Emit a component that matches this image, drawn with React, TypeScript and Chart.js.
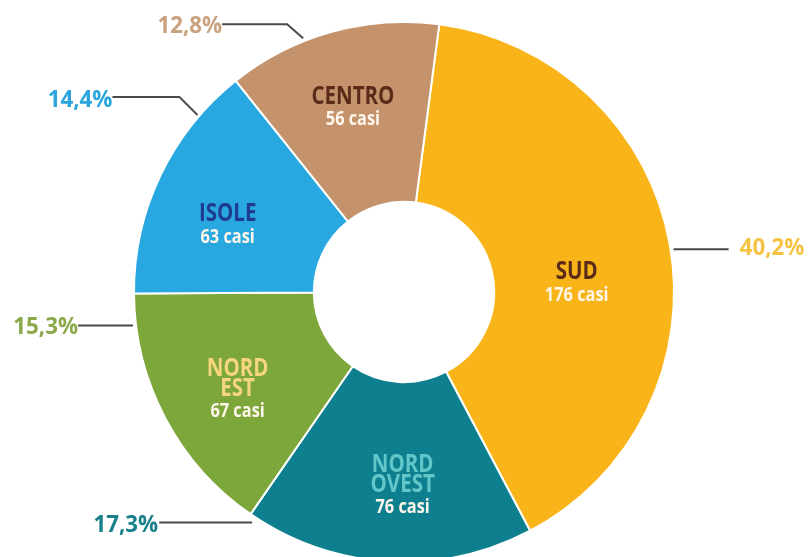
import React, { useEffect, useRef } from "react";
import { Chart, registerables } from "chart.js";

Chart.register(...registerables);

// ---------- data ----------
const REGIONS = ["SUD", "NORD OVEST", "NORD EST", "ISOLE", "CENTRO"];
const TITLE_LINES = [["SUD"], ["NORD", "OVEST"], ["NORD", "EST"], ["ISOLE"], ["CENTRO"]];
const CASES = [176, 76, 67, 63, 56];
const PERCENT_LABELS = ["40,2%", "17,3%", "15,3%", "14,4%", "12,8%"];
const COUNT_SUFFIX = " casi";

// ---------- styles ----------
const SEGMENT_COLORS = ["#F8B418", "#0E7F8E", "#7DA63B", "#29A7E0", "#C4926B"];
const TITLE_COLORS = ["#5B2B1A", "#63C6C9", "#F6D67C", "#1F3C8F", "#5B2B1A"];
const PERCENT_COLORS = ["#F6C344", "#17808A", "#8BA84A", "#2AA5DE", "#C9A27E"];
const COUNT_COLOR = "#FFF6EC";
const LEADER_COLOR = "#4A4A4A";
const FONT_FAMILY = "'Open Sans', 'DejaVu Sans', sans-serif";

// inner label placement: angle shift (deg) from arc middle, radial fraction between inner and outer radius
const INNER_LABEL_STYLE = [
  { shift: 7.4, r: 0.46 },
  { shift: -3, r: 0.58 },
  { shift: -2.7, r: 0.573 },
  { shift: -5, r: 0.546 },
  { shift: 0, r: 0.56 },
];

// leader lines: t = fraction along arc, out = px beyond outer radius, elbow = [dx, dy], len = horizontal length, side = -1 left / 1 right
const LEADER_STYLE = [
  { t: 0.508, out: 3, elbow: [0, 0], len: 55, side: 1, gap: 11, dy: -1.5 },
  { t: 0.98, out: 6, elbow: [0, 0], len: 93, side: -1, gap: 1, dy: 3 },
  { t: 0.878, out: 3, elbow: [0, 0], len: 55, side: -1, gap: 0, dy: 2 },
  { t: 0.79, out: 2, elbow: [-18, -18], len: 67, side: -1, gap: 0, dy: 3 },
  { t: 0.366, out: 3, elbow: [-16, -14], len: 65, side: -1, gap: 0, dy: 2 },
];

function drawScaledText(
  ctx: CanvasRenderingContext2D,
  text: string,
  x: number,
  y: number,
  font: string,
  color: string,
  align: CanvasTextAlign,
  sx: number
) {
  ctx.save();
  ctx.translate(x, y);
  ctx.scale(sx, 1);
  ctx.font = font;
  ctx.fillStyle = color;
  ctx.textAlign = align;
  ctx.textBaseline = "middle";
  ctx.fillText(text, 0, 0);
  ctx.restore();
}

const labelPlugin = {
  id: "donutLabels",
  afterDatasetsDraw(chart: any) {
    const ctx: CanvasRenderingContext2D = chart.ctx;
    const meta = chart.getDatasetMeta(0);
    meta.data.forEach((arc: any, i: number) => {
      const { x, y, startAngle, endAngle, innerRadius, outerRadius } = arc.getProps(
        ["x", "y", "startAngle", "endAngle", "innerRadius", "outerRadius"],
        true
      );
      // inner label
      const st = INNER_LABEL_STYLE[i];
      const mid = (startAngle + endAngle) / 2 + (st.shift * Math.PI) / 180;
      const rr = innerRadius + st.r * (outerRadius - innerRadius);
      const cx = x + Math.cos(mid) * rr;
      const cy = y + Math.sin(mid) * rr;
      const titles = TITLE_LINES[i];
      const titleStep = 20;
      const countGap = 23;
      const total = (titles.length - 1) * titleStep + countGap;
      const ly = cy - total / 2;
      titles.forEach((t, k) => {
        drawScaledText(ctx, t, cx, ly + k * titleStep, `bold 25px ${FONT_FAMILY}`, TITLE_COLORS[i], "center", 0.82);
      });
      drawScaledText(
        ctx,
        CASES[i] + COUNT_SUFFIX,
        cx,
        ly + (titles.length - 1) * titleStep + countGap,
        `bold 19px ${FONT_FAMILY}`,
        COUNT_COLOR,
        "center",
        0.86
      );

      // leader
      const ls = LEADER_STYLE[i];
      const a = startAngle + ls.t * (endAngle - startAngle);
      const ar = outerRadius + ls.out;
      const ax = x + Math.cos(a) * ar;
      const ay = y + Math.sin(a) * ar;
      const ex = ax + ls.elbow[0];
      const ey = ay + ls.elbow[1];
      const hx = ex + ls.side * ls.len;
      ctx.save();
      ctx.strokeStyle = LEADER_COLOR;
      ctx.lineWidth = 2;
      ctx.beginPath();
      ctx.moveTo(ax, ay);
      ctx.lineTo(ex, ey);
      ctx.lineTo(hx, ey);
      ctx.stroke();
      ctx.restore();
      drawScaledText(
        ctx,
        PERCENT_LABELS[i],
        hx + ls.side * ls.gap,
        ey + ls.dy,
        `bold 24px ${FONT_FAMILY}`,
        PERCENT_COLORS[i],
        ls.side < 0 ? "right" : "left",
        0.93
      );
    });
  },
};

export default function App() {
  const canvasRef = useRef<HTMLCanvasElement | null>(null);

  useEffect(() => {
    if (!canvasRef.current) return;
    const chart = new Chart(canvasRef.current, {
      type: "doughnut",
      data: {
        labels: REGIONS,
        datasets: [
          {
            data: CASES,
            backgroundColor: SEGMENT_COLORS,
            borderColor: "#FFFFFF",
            borderWidth: 2,
            radius: 270,
            cutout: "33.4%",
            rotation: 7.5,
          } as any,
        ],
      },
      options: {
        animation: false,
        responsive: true,
        maintainAspectRatio: false,
        events: [],
        layout: { padding: { top: 27, bottom: 0, left: 0, right: 0 } },
        plugins: {
          legend: { display: false },
          tooltip: { enabled: false },
        },
      },
      plugins: [labelPlugin],
    });
    return () => chart.destroy();
  }, []);

  return (
    <div style={{ position: "absolute", left: 0, top: 0, width: 808, height: 557, background: "#fff" }}>
      <canvas ref={canvasRef} />
    </div>
  );
}
